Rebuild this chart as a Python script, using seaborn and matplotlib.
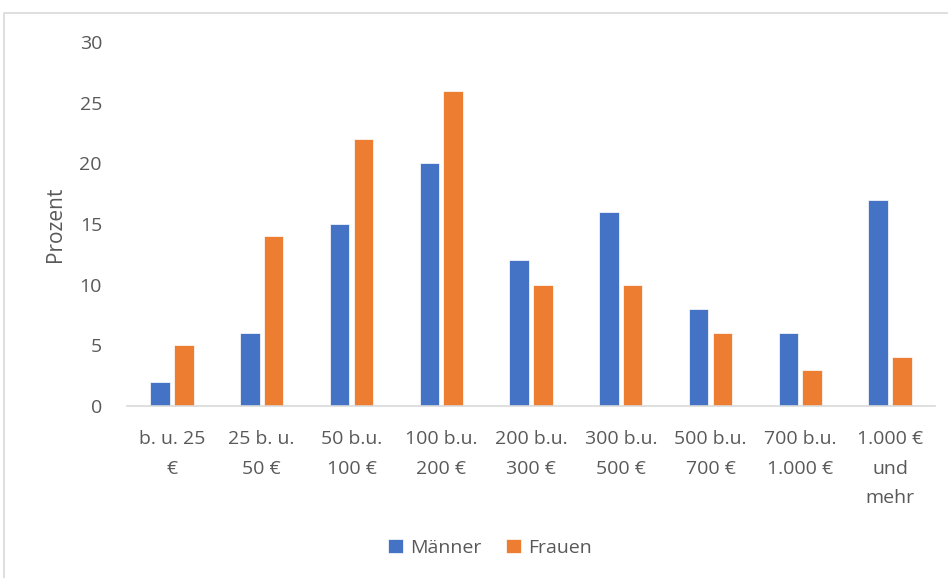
import pandas as pd
import matplotlib
matplotlib.use("Agg")
import matplotlib.pyplot as plt
from matplotlib.patches import Rectangle
import seaborn as sns

# Kategorien und Werte (Prozent)
kategorien = ["b. u. 25\n€", "25 b. u.\n50 €", "50 b.u.\n100 €", "100 b.u.\n200 €",
              "200 b.u.\n300 €", "300 b.u.\n500 €", "500 b.u.\n700 €",
              "700 b.u.\n1.000 €", "1.000 €\nund\nmehr"]
maenner = [2, 6, 15, 20, 12, 16, 8, 6, 17]
frauen = [5, 14, 22, 26, 10, 10, 6, 3, 4]
gruppen = ["Männer", "Frauen"]
farben = ["#4472C4", "#ED7D31"]
y_ticks = [0, 5, 10, 15, 20, 25, 30]

df = pd.DataFrame({
    "Kategorie": kategorien * 2,
    "Prozent": maenner + frauen,
    "Geschlecht": [gruppen[0]] * len(kategorien) + [gruppen[1]] * len(kategorien),
})

sns.set_theme(style="white")
plt.rcParams["font.family"] = ["Open Sans", "DejaVu Sans"]
text_col = "#595959"
fs = 14

fig = plt.figure(figsize=(9.48, 5.78), dpi=100)
ax = fig.add_axes([127 / 948, 1 - 406 / 578, (935 - 127) / 948, (406 - 42) / 578])

sns.barplot(data=df, x="Kategorie", y="Prozent", hue="Geschlecht",
            palette=farben, saturation=1, width=0.53, gap=0.18, ax=ax,
            edgecolor="white", linewidth=0.5, legend=True)

ax.set_ylim(0, 30)
ax.set_yticks(y_ticks)
ax.set_xlim(-0.5, len(kategorien) - 0.5)
ax.tick_params(axis="y", length=0, pad=18, labelsize=fs, labelcolor=text_col)
ax.tick_params(axis="x", length=0, pad=17, labelsize=fs, labelcolor=text_col)
for lbl in ax.get_xticklabels():
    lbl.set_linespacing(1.85)
    lbl.set_verticalalignment("top")

ax.set_xlabel("")
ax.set_ylabel("Prozent", fontsize=fs + 1, color=text_col)
ax.yaxis.set_label_coords(-0.076, 0.5)

for s in ["top", "right", "left"]:
    ax.spines[s].set_visible(False)
ax.spines["bottom"].set_color("#d9d9d9")
ax.spines["bottom"].set_linewidth(1.2)

leg = ax.legend(loc="center", bbox_to_anchor=(490 / 948, 1 - 548 / 578),
                bbox_transform=fig.transFigure, ncol=2, frameon=False,
                fontsize=fs, handlelength=0.75, handleheight=0.75,
                handletextpad=0.35, columnspacing=1.3, labelcolor=text_col)

# Rahmen des Diagrammbereichs
fig.patches.append(Rectangle((4 / 948, -0.05), 1.1, 1 - 13 / 578 + 0.05,
                             transform=fig.transFigure, fill=False,
                             edgecolor="#d9d9d9", linewidth=1.2))

fig.savefig("out.png", dpi=100)
